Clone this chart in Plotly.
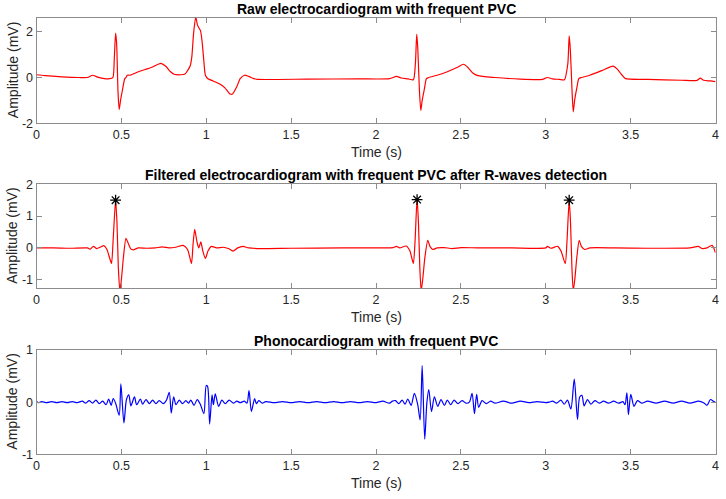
import plotly.graph_objects as go

# ---------------- data ----------------
raw_t = [0.00, 0.05, 0.15, 0.25, 0.30, 0.33, 0.36, 0.40, 0.43, 0.45, 0.458, 0.466, 0.472,
         0.480, 0.487, 0.495, 0.505, 0.520, 0.527, 0.535, 0.55, 0.60, 0.68, 0.732, 0.76,
         0.79, 0.81, 0.85, 0.875, 0.89, 0.905, 0.915, 0.925, 0.938, 0.948, 0.958, 0.966,
         0.975, 0.985, 0.995, 1.01, 1.04, 1.08, 1.11, 1.14, 1.155, 1.18, 1.20, 1.226, 1.25,
         1.28, 1.30, 1.60, 1.90, 2.08, 2.12, 2.15, 2.19, 2.22, 2.232, 2.240, 2.246, 2.256,
         2.264, 2.272, 2.285, 2.297, 2.31, 2.36, 2.42, 2.48, 2.515, 2.54, 2.57, 2.60, 2.70,
         2.85, 2.98, 3.01, 3.04, 3.08, 3.11, 3.13, 3.138, 3.145, 3.155, 3.162, 3.17, 3.182,
         3.195, 3.21, 3.26, 3.33, 3.397, 3.42, 3.45, 3.47, 3.60, 3.80, 3.89, 3.91, 3.93,
         3.97, 4.00]
raw_mv = [0.12, 0.08, 0.03, 0.00, 0.00, 0.10, 0.02, -0.05, -0.05, 0.00, 0.80, 1.94, 1.50,
          -0.60, -1.40, -1.00, -0.60, -0.05, 0.00, 0.10, 0.10, 0.25, 0.45, 0.62, 0.50,
          0.25, 0.14, 0.12, 0.15, 0.30, 0.50, 0.90, 1.90, 2.65, 2.30, 2.15, 2.05,
          1.60, 0.80, 0.10, -0.05, -0.15, -0.28, -0.45, -0.72, -0.72, -0.40, -0.05, 0.10, 0.05,
          -0.05, -0.08, -0.07, -0.06, -0.05, 0.05, -0.02, -0.06, -0.10, 0.60, 1.90, 1.30, -0.60,
          -1.44, -1.00, -0.50, -0.05, 0.00, 0.10, 0.25, 0.45, 0.58, 0.45, 0.20, 0.08, 0.00,
          -0.07, -0.08, 0.00, -0.06, -0.08, -0.10, 0.60, 1.82, 1.20, -0.60, -1.50, -1.00, -0.50,
          -0.05, 0.00, 0.10, 0.30, 0.50, 0.38, 0.10, -0.05, -0.08, -0.12, -0.13, -0.03, -0.12,
          -0.15, -0.18]

filt_t = [0.00, 0.10, 0.20, 0.30, 0.315, 0.335, 0.355, 0.375, 0.397, 0.415, 0.43, 0.442,
          0.452, 0.466, 0.474, 0.482, 0.491, 0.500, 0.512, 0.527, 0.54, 0.555, 0.57, 0.60,
          0.65, 0.70, 0.74, 0.78, 0.82, 0.864, 0.89, 0.913, 0.922, 0.932, 0.945, 0.956,
          0.968, 0.98, 0.995, 1.01, 1.03, 1.06, 1.10, 1.13, 1.158, 1.185, 1.216, 1.25, 1.30,
          1.50, 1.80, 2.05, 2.10, 2.12, 2.14, 2.178, 2.20, 2.22, 2.23, 2.242, 2.25, 2.258,
          2.266, 2.275, 2.288, 2.305, 2.318, 2.335, 2.36, 2.40, 2.45, 2.50, 2.60, 2.80, 3.00,
          3.01, 3.03, 3.07, 3.09, 3.115, 3.125, 3.138, 3.146, 3.154, 3.162, 3.171, 3.183,
          3.197, 3.21, 3.23, 3.26, 3.40, 3.60, 3.85, 3.90, 3.92, 3.95, 3.98, 4.00]
filt_mv = [0.00, 0.00, -0.01, 0.00, -0.04, 0.05, -0.02, 0.02, 0.07, -0.05, -0.30, -0.49,
           0.30, 1.50, 0.80, -0.60, -1.35, -1.00, -0.30, 0.30, 0.15, -0.03, -0.06, 0.00,
           -0.01, 0.00, 0.03, 0.00, 0.02, 0.08, -0.05, -0.49, 0.10, 0.58, 0.20, 0.00,
           0.19, -0.10, -0.33, -0.10, 0.05, 0.00, 0.02, -0.02, -0.10, 0.00, 0.05, 0.00, -0.02,
           -0.01, 0.00, 0.00, 0.01, 0.05, 0.00, 0.06, -0.10, -0.49, 0.20, 1.55, 0.80, -0.60,
           -1.35, -1.00, -0.30, 0.24, 0.05, -0.05, 0.00, 0.01, -0.02, 0.01, 0.00, 0.00, 0.00,
           0.05, -0.01, 0.05, -0.10, -0.49, 0.20, 1.50, 0.80, -0.60, -1.35, -1.00, -0.30,
           0.24, 0.05, -0.05, 0.00, 0.00, -0.01, 0.00, 0.05, -0.02, 0.00, 0.08, -0.15]

peak_t = [0.466, 2.242, 3.138]
peak_mv = [1.50, 1.52, 1.50]

pcg_t = [0.00, 0.01, 0.03, 0.06, 0.09, 0.12, 0.15, 0.18, 0.21, 0.24, 0.27, 0.29, 0.31,
         0.33, 0.35, 0.37, 0.39, 0.41, 0.425, 0.44, 0.452, 0.467, 0.487, 0.497, 0.515,
         0.530, 0.544, 0.556, 0.577, 0.590, 0.612, 0.625, 0.645, 0.665, 0.684, 0.704,
         0.723, 0.747, 0.766, 0.782, 0.794, 0.808, 0.822, 0.841, 0.860, 0.880, 0.895,
         0.909, 0.928, 0.947, 0.965, 0.986, 1.000, 1.008, 1.020, 1.034, 1.042, 1.053,
         1.073, 1.092, 1.112, 1.135, 1.160, 1.180, 1.200, 1.225, 1.240, 1.252, 1.266,
         1.285, 1.295, 1.310, 1.330, 1.350, 1.40, 1.45, 1.50, 1.55, 1.60, 1.65, 1.70,
         1.75, 1.80, 1.85, 1.90, 1.95, 2.00, 2.04, 2.079, 2.097, 2.115, 2.134, 2.154,
         2.171, 2.187, 2.207, 2.226, 2.246, 2.260, 2.272, 2.287, 2.300, 2.311, 2.327,
         2.344, 2.364, 2.383, 2.403, 2.420, 2.440, 2.460, 2.483, 2.507, 2.530, 2.550,
         2.566, 2.580, 2.593, 2.605, 2.625, 2.650, 2.675, 2.70, 2.75, 2.80, 2.85, 2.90,
         2.95, 3.00, 3.020, 3.040, 3.064, 3.089, 3.109, 3.128, 3.148, 3.168, 3.187,
         3.200, 3.213, 3.226, 3.246, 3.266, 3.290, 3.315, 3.34, 3.37, 3.40, 3.43, 3.455,
         3.467, 3.478, 3.487, 3.501, 3.520, 3.540, 3.565, 3.60, 3.65, 3.70, 3.75, 3.80,
         3.85, 3.90, 3.93, 3.950, 3.970, 3.990, 4.00]
pcg_mv = [0.02, -0.01, 0.01, -0.01, 0.01, -0.01, 0.01, -0.01, 0.01, -0.01, 0.02, -0.02, 0.03,
          -0.02, 0.04, -0.03, 0.02, -0.05, 0.06, -0.06, 0.07, -0.03, -0.25, 0.35, -0.40,
          0.05, 0.14, -0.07, 0.10, -0.05, 0.06, -0.04, 0.05, -0.03, 0.04, -0.03,
          0.03, -0.03, 0.04, 0.19, -0.21, 0.10, -0.05, 0.04, -0.03, 0.03, -0.02,
          0.04, -0.06, 0.05, -0.04, -0.22, 0.32, 0.30, -0.42, 0.14, -0.05, 0.16,
          -0.08, 0.04, -0.03, 0.04, -0.02, 0.02, -0.01, 0.02, -0.02, 0.22, -0.18,
          0.07, -0.03, 0.03, -0.02, 0.01, -0.01, 0.01, -0.01, 0.01, -0.01, 0.01, -0.01,
          0.01, -0.01, 0.01, -0.01, 0.01, -0.01, 0.02, -0.02, 0.02, 0.03, -0.03, 0.04,
          -0.04, 0.06, -0.06, 0.17, -0.05, -0.34, 0.70, -0.71, 0.00, 0.24, -0.18,
          0.10, -0.08, 0.05, -0.06, 0.04, -0.05, 0.04, -0.03, 0.03, -0.02, 0.00,
          0.17, -0.22, 0.15, -0.10, 0.03, -0.03, 0.02, -0.02, 0.02, -0.02, 0.02, -0.01,
          0.01, -0.01, 0.00, 0.02, -0.02, 0.04, -0.04, 0.04, -0.13, 0.44, -0.33,
          0.10, 0.13, -0.07, 0.05, -0.04, 0.03, -0.02, 0.02, -0.02, 0.02, -0.02, 0.01,
          -0.05, 0.18, -0.24, 0.15, -0.08, 0.03, -0.02, 0.02, -0.02, 0.02, -0.02, 0.02,
          -0.02, 0.02, -0.01, -0.06, 0.05, 0.01, 0.00]

x_ticks = [0, 0.5, 1, 1.5, 2, 2.5, 3, 3.5, 4]
x_tick_labels = ["0", "0.5", "1", "1.5", "2", "2.5", "3", "3.5", "4"]
y1_ticks = [-2, 0, 2]
y1_tick_labels = ["-2", "0", "2"]
y2_ticks = [-1, 0, 1, 2]
y2_tick_labels = ["-1", "0", "1", "2"]
y3_ticks = [-1, 0, 1]
y3_tick_labels = ["-1", "0", "1"]

titles = ["Raw electrocardiogram with frequent PVC",
          "Filtered electrocardiogram with frequent PVC after R-waves detection",
          "Phonocardiogram with frequent PVC"]
x_label = "Time (s)"
y_label = "Amplitude (mV)"

# ---------------- figure ----------------
W, H = 726, 499
FONT = "Liberation Sans, Arial, sans-serif"
AX_COL = "#8c8c8c"
TXT_COL = "#262626"


def px_x(p):
    return p / W


def px_y(p):
    return 1 - p / H


x_dom = [px_x(36.5), px_x(715.5)]
y_doms = [[px_y(123.3), px_y(18.0)],
          [px_y(288.3), px_y(184.3)],
          [px_y(454.3), px_y(350.0)]]
y_ranges = [[-2, 2.6], [-1.27, 2], [-1, 1]]
y_tickvals = [y1_ticks, y2_ticks, y3_ticks]
y_ticktexts = [y1_tick_labels, y2_tick_labels, y3_tick_labels]

fig = go.Figure()
fig.add_trace(go.Scatter(x=raw_t, y=raw_mv, mode="lines", line=dict(color="#ff0000", width=1.2, shape="spline", smoothing=0.6),
                         xaxis="x", yaxis="y", showlegend=False))
fig.add_trace(go.Scatter(x=filt_t, y=filt_mv, mode="lines", line=dict(color="#ff0000", width=1.2, shape="spline", smoothing=0.6),
                         xaxis="x2", yaxis="y2", showlegend=False))
fig.add_trace(go.Scatter(x=peak_t, y=peak_mv, mode="markers",
                         marker=dict(symbol="asterisk-open", size=9, color="black", line=dict(color="black", width=1.3)),
                         xaxis="x2", yaxis="y2", showlegend=False, cliponaxis=False))
fig.add_trace(go.Scatter(x=pcg_t, y=pcg_mv, mode="lines", line=dict(color="#0000ff", width=1.2, shape="spline", smoothing=0.8),
                         xaxis="x3", yaxis="y3", showlegend=False))

layout = dict(width=W, height=H, margin=dict(l=0, r=0, t=0, b=0, autoexpand=False),
              paper_bgcolor="white", plot_bgcolor="white",
              font=dict(family=FONT, color=TXT_COL, size=12.5), showlegend=False)
annotations = []
for i in range(3):
    sfx = "" if i == 0 else str(i + 1)
    layout["xaxis" + sfx] = dict(domain=x_dom, range=[0, 4], anchor="y" + sfx, automargin=False,
                                 tickvals=x_ticks, ticktext=x_tick_labels,
                                 ticks="inside", ticklen=5, tickcolor=AX_COL, tickwidth=1,
                                 showline=True, linecolor=AX_COL, linewidth=1, mirror="ticks",
                                 showgrid=False, zeroline=False,
                                 tickfont=dict(family=FONT, size=12.5, color=TXT_COL))
    layout["yaxis" + sfx] = dict(domain=y_doms[i], range=y_ranges[i], anchor="x" + sfx, automargin=False,
                                 tickvals=y_tickvals[i], ticktext=y_ticktexts[i],
                                 ticks="inside", ticklen=5, tickcolor=AX_COL, tickwidth=1,
                                 showline=True, linecolor=AX_COL, linewidth=1, mirror="ticks",
                                 showgrid=False, zeroline=False,
                                 tickfont=dict(family=FONT, size=12.5, color=TXT_COL))
    top, bot = y_doms[i][1], y_doms[i][0]
    annotations.append(dict(text="<b>" + titles[i] + "</b>", xref="paper", yref="paper",
                            x=(x_dom[0] + x_dom[1]) / 2, y=top, xanchor="center", yanchor="bottom",
                            yshift=-1, showarrow=False, font=dict(family=FONT, size=14, color="black")))
    annotations.append(dict(text=x_label, xref="paper", yref="paper",
                            x=(x_dom[0] + x_dom[1]) / 2, y=bot, xanchor="center", yanchor="middle",
                            yshift=-29, showarrow=False, font=dict(family=FONT, size=14, color=TXT_COL)))
    annotations.append(dict(text=y_label, xref="paper", yref="paper",
                            x=px_x(12.5), y=(top + bot) / 2, xanchor="center", yanchor="middle",
                            textangle=-90, showarrow=False, font=dict(family=FONT, size=14, color=TXT_COL)))
layout["annotations"] = annotations
fig.update_layout(**layout)
fig.write_html("out.html", config={"displayModeBar": False},
               post_script="document.body.style.margin='0';document.body.style.overflow='hidden';")
